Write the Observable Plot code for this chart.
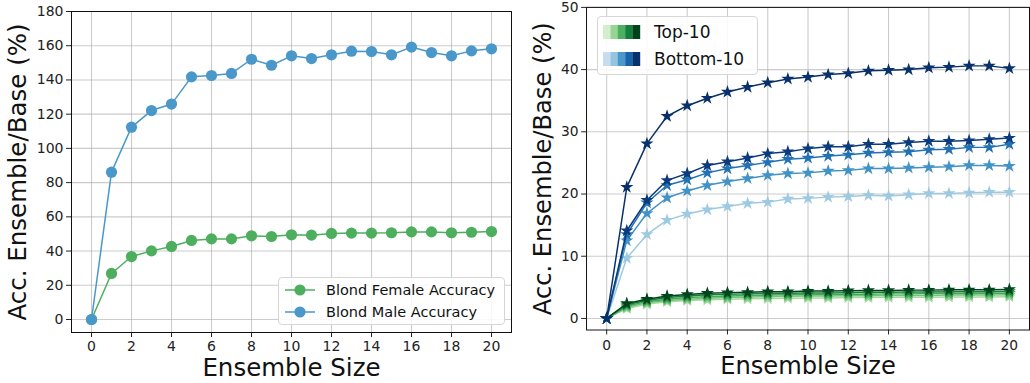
<!DOCTYPE html>
<html>
<head>
<meta charset="utf-8">
<script src="https://cdn.jsdelivr.net/npm/d3@7"></script>
<script src="https://cdn.jsdelivr.net/npm/@observablehq/plot@0.6"></script>
<style>
  html, body { margin: 0; padding: 0; background: white; }
  #wrap { position: relative; width: 1030px; height: 383px; overflow: hidden; font-family: "DejaVu Sans", sans-serif; }
  .panel { position: absolute; top: 0; }
  .legend { position: absolute; background: rgba(255,255,255,0.85); border: 1px solid #d6d6d6; border-radius: 4px; box-sizing: border-box; font-family: "DejaVu Sans", sans-serif; color: #111; }
  .row { position: absolute; left: 0; display: flex; align-items: center; white-space: nowrap; }
</style>
</head>
<body>
<div id="wrap">
  <div id="left" class="panel" style="left:0"></div>
  <div id="right" class="panel" style="left:515px"></div>
</div>
<script>
// ---------- data ----------
const ensembleSize = [0,1,2,3,4,5,6,7,8,9,10,11,12,13,14,15,16,17,18,19,20];
const xTicks = [0,2,4,6,8,10,12,14,16,18,20];
const leftYTicks = [0,20,40,60,80,100,120,140,160,180];
const rightYTicks = [0,10,20,30,40,50];

const blondFemale = [0,26.9,36.8,40.1,42.7,46.2,47.1,47.1,48.9,48.5,49.5,49.3,50.3,50.5,50.5,50.7,51.2,51.2,50.7,51.0,51.4];
const blondMale   = [0,86.1,112.4,122.1,125.9,141.8,142.6,143.8,152.1,148.6,154.1,152.5,154.7,156.8,156.6,154.7,159.2,156.0,154.1,157.0,158.2];

const top10Lines = [
  [0,1.6,2.3,2.7,2.9,3.0,3.1,3.15,3.2,3.25,3.3,3.3,3.35,3.35,3.4,3.4,3.4,3.45,3.45,3.45,3.5],
  [0,1.8,2.5,2.9,3.1,3.25,3.35,3.45,3.5,3.55,3.6,3.6,3.65,3.65,3.7,3.7,3.7,3.75,3.75,3.75,3.8],
  [0,2.0,2.7,3.1,3.35,3.5,3.6,3.7,3.75,3.8,3.85,3.85,3.9,3.9,3.95,3.95,4.0,4.0,4.0,4.05,4.05],
  [0,2.2,2.9,3.35,3.6,3.8,3.9,3.95,4.0,4.05,4.1,4.1,4.15,4.2,4.2,4.25,4.25,4.3,4.3,4.3,4.35],
  [0,2.4,3.1,3.6,3.85,4.05,4.15,4.2,4.3,4.3,4.4,4.4,4.45,4.5,4.5,4.55,4.55,4.6,4.6,4.6,4.65]
];
const bottom10Lines = [
  [0,9.7,13.5,15.8,16.8,17.5,18.0,18.5,18.7,19.2,19.3,19.5,19.6,19.8,19.7,19.9,20.1,20.1,20.2,20.3,20.3],
  [0,12.5,16.9,19.4,20.5,21.4,22.0,22.5,23.0,23.3,23.4,23.7,23.8,24.1,24.1,24.2,24.3,24.4,24.6,24.6,24.5],
  [0,13.5,18.6,21.4,22.3,23.4,24.1,24.6,25.1,25.6,25.8,26.1,26.3,26.6,26.7,26.8,27.1,27.2,27.5,27.5,28.0],
  [0,14.1,19.0,22.2,23.3,24.6,25.2,25.8,26.5,26.8,27.3,27.6,27.6,28.0,28.0,28.3,28.5,28.5,28.6,28.8,29.0],
  [0,21.1,28.1,32.5,34.2,35.4,36.4,37.2,37.9,38.5,38.8,39.2,39.4,39.8,39.9,40.0,40.3,40.4,40.6,40.6,40.2]
];
const top10Colors = ["#a1d99b","#74c476","#41ab5d","#1a7f3b","#00441b"];
const bottom10Colors = ["#9ecae1","#4292c6","#2171b5","#0b3b7c","#08306b"];
const legendGreens = ["#d3eecd","#98d594","#4bb062","#157f3b","#00441b"];
const legendBlues = ["#c8dcf0","#94c4df","#4a98c9","#1764ab","#08306b"];

const femaleColor = "#4daf5e";
const maleColor = "#4a98c9";

const yLabel = "Acc. Ensemble/Base (%)";
const xLabel = "Ensemble Size";

// ---------- helpers ----------
const font = "DejaVu Sans";
function gridAndAxes(yTicks, xPad) {
  return [
    Plot.gridX(xTicks, {stroke: "#b0b0b0", strokeOpacity: 0.65, strokeWidth: 1.1}),
    Plot.gridY(yTicks, {stroke: "#b0b0b0", strokeOpacity: 0.65, strokeWidth: 1.1}),
    Plot.axisX(xTicks, {tickSize: 5, tickPadding: xPad, fontSize: 14, label: null, stroke: "#222", fill: "#222"}),
    Plot.axisY(yTicks, {tickSize: 5, tickPadding: 3, fontSize: 14, label: null, stroke: "#222", fill: "#222"})
  ];
}
function axisLabels(dxY, dyX) {
  return [
    Plot.text([yLabel], {frameAnchor: "left", textAnchor: "middle", lineAnchor: "middle", rotate: -90, dx: dxY, fontSize: 24.5, fill: "#111"}),
    Plot.text([xLabel], {frameAnchor: "bottom", textAnchor: "middle", lineAnchor: "middle", dy: dyX, fontSize: 24.5, fill: "#111"})
  ];
}

// ---------- left panel ----------
const leftData = [];
ensembleSize.forEach((s, i) => {
  leftData.push({size: s, value: blondFemale[i], series: "female"});
  leftData.push({size: s, value: blondMale[i], series: "male"});
});

const leftPlot = Plot.plot({
  width: 515, height: 383,
  marginLeft: 71, marginRight: 4, marginTop: 11, marginBottom: 51,
  x: {domain: [-1, 21]},
  y: {domain: [-7.6, 180]},
  color: {domain: ["female","male"], range: [femaleColor, maleColor]},
  style: {fontFamily: font, background: "white", color: "#222", overflow: "visible"},
  marks: [
    ...gridAndAxes(leftYTicks, 4),
    Plot.line(leftData, {x: "size", y: "value", z: "series", stroke: "series", strokeWidth: 1.5}),
    Plot.dot(leftData, {x: "size", y: "value", fill: "series", r: 5.6}),
    Plot.frame({stroke: "#111", strokeWidth: 1}),
    ...axisLabels(-53, 36)
  ]
});
document.getElementById("left").appendChild(leftPlot);

// ---------- right panel ----------
const rightData = [];
top10Lines.forEach((arr, k) => arr.forEach((v, i) => rightData.push({size: ensembleSize[i], value: v, series: "top" + k})));
bottom10Lines.forEach((arr, k) => arr.forEach((v, i) => rightData.push({size: ensembleSize[i], value: v, series: "bottom" + k})));

const rightSeries = top10Colors.map((c, k) => "top" + k).concat(bottom10Colors.map((c, k) => "bottom" + k));
const rightColors = top10Colors.concat(bottom10Colors);

const rightMarks = [...gridAndAxes(rightYTicks, 5)];
rightSeries.forEach((name) => {
  const d = rightData.filter(r => r.series === name);
  rightMarks.push(Plot.line(d, {x: "size", y: "value", stroke: "series", strokeWidth: 1.5}));
  rightMarks.push(Plot.dot(d, {x: "size", y: "value", fill: "series", symbol: "star", r: 4.2}));
});
rightMarks.push(Plot.frame({stroke: "#111", strokeWidth: 1}));
rightMarks.push(...axisLabels(-44, 37));

const rightPlot = Plot.plot({
  width: 522, height: 383,
  marginLeft: 72, marginRight: 1, marginTop: 7, marginBottom: 49,
  x: {domain: [-1, 21]},
  y: {domain: [-1.86, 50]},
  color: {domain: rightSeries, range: rightColors},
  style: {fontFamily: font, background: "white", color: "#222", overflow: "visible"},
  marks: rightMarks
});
document.getElementById("right").appendChild(rightPlot);

// ---------- legends ----------
const wrap = document.getElementById("wrap");
const lg = document.createElement("div");
lg.className = "legend";
Object.assign(lg.style, {left: "278px", top: "277px", width: "227px", height: "48px"});
[["Blond Female Accuracy", femaleColor, 12], ["Blond Male Accuracy", maleColor, 34]].forEach(([label, col, cy]) => {
  const r = document.createElement("div");
  r.className = "row";
  r.style.top = (cy - 10) + "px";
  r.style.height = "20px";
  r.innerHTML = `<svg width="42" height="20" style="margin-left:5px"><line x1="1" x2="31" y1="10" y2="10" stroke="${col}" stroke-width="1.5"/><circle cx="16" cy="10" r="5.6" fill="${col}"/></svg><span style="font-size:14.5px">${label}</span>`;
  lg.appendChild(r);
});
wrap.appendChild(lg);

const rg = document.createElement("div");
rg.className = "legend";
Object.assign(rg.style, {left: "597px", top: "16px", width: "161px", height: "59px"});
[["Top-10", legendGreens, 15], ["Bottom-10", legendBlues, 42]].forEach(([label, cols, cy]) => {
  const r = document.createElement("div");
  r.className = "row";
  r.style.top = (cy - 11) + "px";
  r.style.height = "22px";
  const rects = cols.map((c, i) => `<rect x="${5 + i * 7.4}" y="4" width="7.6" height="14" fill="${c}"/>`).join("");
  r.innerHTML = `<svg width="56" height="22">${rects}</svg><span style="font-size:17px">${label}</span>`;
  rg.appendChild(r);
});
wrap.appendChild(rg);
</script>
</body>
</html>
